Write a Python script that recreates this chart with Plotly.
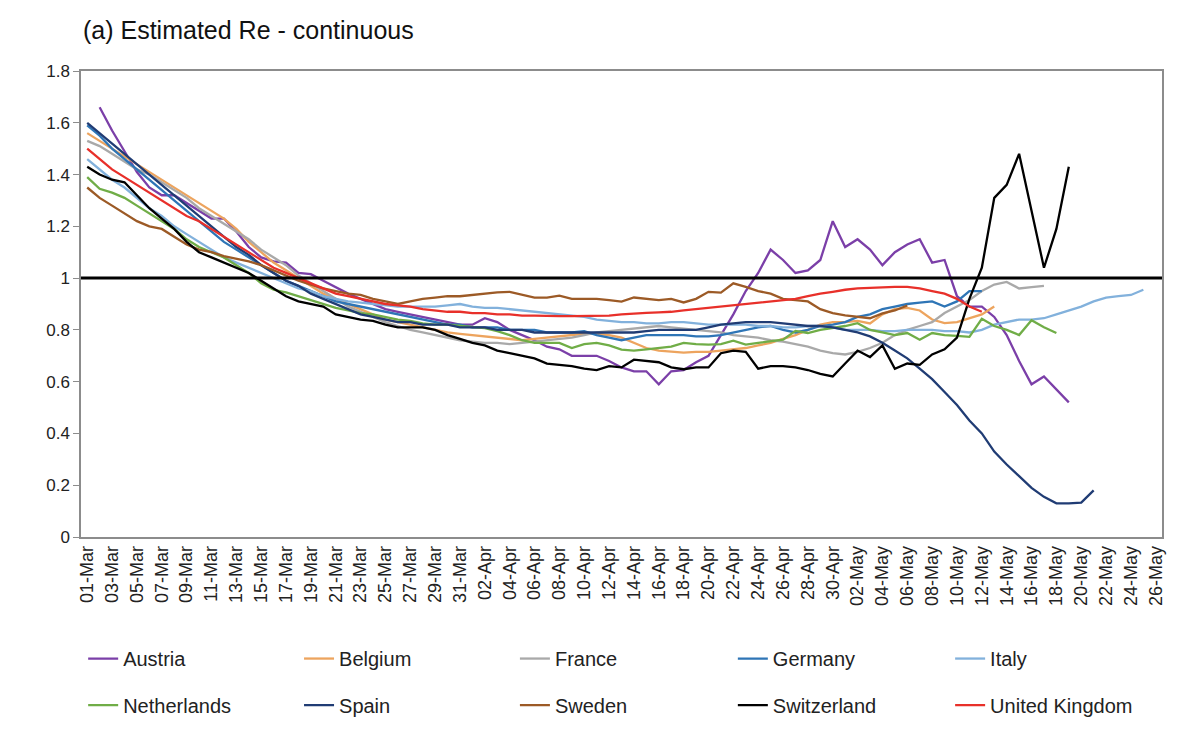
import plotly.graph_objects as go

# Category labels: 01-Mar .. 26-May
dates = ([f"{d:02d}-Mar" for d in range(1, 32)] +
         [f"{d:02d}-Apr" for d in range(1, 31)] +
         [f"{d:02d}-May" for d in range(1, 27)])
tick_labels = dates[::2]

threshold = 1.0

austria_start = 1
austria = [1.66, 1.57, 1.49, 1.41, 1.35, 1.32, 1.32, 1.29, 1.26, 1.23,
           1.23, 1.18, 1.12, 1.08, 1.065, 1.06, 1.02, 1.015, 0.99, 0.965,
           0.94, 0.92, 0.90, 0.88, 0.87, 0.86, 0.85, 0.84, 0.83, 0.82,
           0.82, 0.845, 0.83, 0.80, 0.78, 0.76, 0.735, 0.725, 0.70, 0.70,
           0.70, 0.68, 0.655, 0.64, 0.64, 0.59, 0.64, 0.645, 0.675, 0.70,
           0.78, 0.86, 0.95, 1.02, 1.11, 1.07, 1.02, 1.03, 1.07, 1.22,
           1.12, 1.15, 1.11, 1.05, 1.10, 1.13, 1.15, 1.06, 1.07, 0.93,
           0.89, 0.89, 0.85, 0.78, 0.68, 0.59, 0.62, 0.57, 0.52]

belgium = [1.56, 1.53, 1.50, 1.47, 1.44, 1.41, 1.38, 1.35, 1.32, 1.29,
           1.26, 1.23, 1.19, 1.14, 1.10, 1.06, 1.03, 1.00, 0.97, 0.94,
           0.92, 0.90, 0.88, 0.86, 0.84, 0.83, 0.82, 0.81, 0.80, 0.79,
           0.785, 0.78, 0.775, 0.77, 0.765, 0.76, 0.765, 0.77, 0.775, 0.78,
           0.785, 0.785, 0.78, 0.77, 0.75, 0.73, 0.72, 0.715, 0.712, 0.715,
           0.715, 0.72, 0.724, 0.73, 0.74, 0.75, 0.765, 0.78, 0.80, 0.82,
           0.83, 0.83, 0.835, 0.825, 0.86, 0.88, 0.885, 0.875, 0.84, 0.826,
           0.83, 0.845, 0.86, 0.89]

france = [1.53, 1.51, 1.48, 1.45, 1.42, 1.40, 1.37, 1.34, 1.31, 1.27,
          1.24, 1.21, 1.18, 1.15, 1.11, 1.08, 1.05, 1.01, 0.98, 0.95,
          0.92, 0.89, 0.87, 0.85, 0.83, 0.815, 0.80, 0.79, 0.78, 0.77,
          0.76, 0.755, 0.75, 0.75, 0.745, 0.75, 0.755, 0.76, 0.765, 0.77,
          0.78, 0.79, 0.795, 0.80, 0.805, 0.81, 0.815, 0.81, 0.805, 0.80,
          0.795, 0.79, 0.78, 0.775, 0.77, 0.76, 0.755, 0.745, 0.735, 0.72,
          0.71, 0.705, 0.715, 0.73, 0.75, 0.78, 0.80, 0.815, 0.83, 0.865,
          0.89, 0.915, 0.95, 0.975, 0.985, 0.96, 0.965, 0.97]

germany = [1.59, 1.55, 1.50, 1.46, 1.42, 1.38, 1.34, 1.30, 1.26, 1.22,
           1.18, 1.14, 1.11, 1.08, 1.05, 1.02, 0.99, 0.97, 0.95, 0.93,
           0.91, 0.90, 0.89, 0.88, 0.87, 0.86, 0.85, 0.84, 0.83, 0.82,
           0.82, 0.81, 0.81, 0.81, 0.80, 0.80, 0.80, 0.79, 0.79, 0.79,
           0.795, 0.78, 0.77, 0.76, 0.77, 0.78, 0.78, 0.78, 0.78, 0.775,
           0.775, 0.78, 0.79, 0.80, 0.81, 0.815, 0.80, 0.79, 0.80, 0.815,
           0.82, 0.83, 0.85, 0.86, 0.88, 0.89, 0.90, 0.905, 0.91, 0.89,
           0.91, 0.95, 0.95]

italy = [1.46, 1.42, 1.38, 1.35, 1.31, 1.27, 1.24, 1.20, 1.17, 1.14,
         1.11, 1.08, 1.06, 1.04, 1.02, 1.00, 0.98, 0.96, 0.95, 0.93,
         0.92, 0.91, 0.905, 0.90, 0.895, 0.89, 0.89, 0.89, 0.89, 0.895,
         0.90, 0.89, 0.885, 0.885, 0.88, 0.875, 0.87, 0.865, 0.86, 0.855,
         0.85, 0.84, 0.835, 0.83, 0.83, 0.825, 0.825, 0.83, 0.83, 0.825,
         0.82, 0.82, 0.82, 0.82, 0.815, 0.815, 0.81, 0.81, 0.815, 0.815,
         0.81, 0.80, 0.80, 0.80, 0.795, 0.795, 0.80, 0.80, 0.80, 0.795,
         0.795, 0.79, 0.80, 0.82, 0.83, 0.84, 0.84, 0.845, 0.86, 0.875,
         0.89, 0.91, 0.925, 0.93, 0.935, 0.955]

netherlands = [1.39, 1.345, 1.33, 1.31, 1.28, 1.25, 1.22, 1.19, 1.15, 1.12,
               1.10, 1.08, 1.05, 1.02, 0.98, 0.955, 0.945, 0.93, 0.915, 0.90,
               0.885, 0.875, 0.865, 0.86, 0.85, 0.84, 0.835, 0.825, 0.82, 0.82,
               0.815, 0.81, 0.807, 0.795, 0.78, 0.76, 0.75, 0.75, 0.75, 0.73,
               0.745, 0.75, 0.74, 0.724, 0.72, 0.725, 0.73, 0.735, 0.75, 0.745,
               0.743, 0.745, 0.758, 0.743, 0.75, 0.755, 0.762, 0.796, 0.788, 0.80,
               0.807, 0.815, 0.826, 0.80, 0.79, 0.78, 0.788, 0.762, 0.788, 0.78,
               0.777, 0.773, 0.843, 0.815, 0.80, 0.78, 0.837, 0.81, 0.788]

spain = [1.60, 1.56, 1.52, 1.48, 1.44, 1.40, 1.36, 1.32, 1.28, 1.24,
         1.20, 1.16, 1.12, 1.09, 1.05, 1.02, 0.99, 0.97, 0.94, 0.92,
         0.90, 0.88, 0.86, 0.85, 0.84, 0.83, 0.83, 0.82, 0.82, 0.82,
         0.81, 0.81, 0.81, 0.80, 0.80, 0.80, 0.79, 0.79, 0.79, 0.79,
         0.79, 0.79, 0.79, 0.79, 0.79, 0.795, 0.80, 0.80, 0.80, 0.80,
         0.81, 0.82, 0.825, 0.83, 0.83, 0.83, 0.825, 0.82, 0.815, 0.815,
         0.81, 0.80, 0.79, 0.775, 0.75, 0.72, 0.69, 0.65, 0.61, 0.56,
         0.51, 0.45, 0.40, 0.33, 0.28, 0.235, 0.19, 0.155, 0.13, 0.13,
         0.133, 0.18]

sweden = [1.35, 1.31, 1.28, 1.25, 1.22, 1.20, 1.19, 1.16, 1.13, 1.11,
          1.10, 1.085, 1.075, 1.065, 1.05, 1.03, 1.01, 0.99, 0.975, 0.96,
          0.95, 0.94, 0.935, 0.92, 0.91, 0.90, 0.91, 0.92, 0.925, 0.93,
          0.93, 0.935, 0.94, 0.945, 0.947, 0.935, 0.925, 0.925, 0.932, 0.92,
          0.92, 0.92, 0.915, 0.909, 0.925, 0.92, 0.915, 0.92, 0.906, 0.92,
          0.947, 0.944, 0.98, 0.966, 0.95, 0.94, 0.92, 0.915, 0.91, 0.88,
          0.865, 0.856, 0.85, 0.845, 0.864, 0.875, 0.894]

switzerland = [1.43, 1.40, 1.38, 1.37, 1.32, 1.27, 1.23, 1.19, 1.14, 1.10,
               1.08, 1.06, 1.04, 1.02, 0.99, 0.96, 0.93, 0.91, 0.90, 0.89,
               0.86, 0.85, 0.84, 0.835, 0.82, 0.81, 0.81, 0.81, 0.80, 0.78,
               0.765, 0.75, 0.74, 0.72, 0.71, 0.70, 0.69, 0.67, 0.665, 0.66,
               0.65, 0.645, 0.66, 0.655, 0.685, 0.68, 0.675, 0.655, 0.648, 0.655,
               0.655, 0.71, 0.72, 0.715, 0.65, 0.66, 0.66, 0.655, 0.645, 0.63,
               0.62, 0.67, 0.72, 0.695, 0.74, 0.65, 0.67, 0.665, 0.705, 0.725,
               0.77, 0.92, 1.04, 1.31, 1.36, 1.48, 1.26, 1.04, 1.19, 1.43]

uk = [1.50, 1.46, 1.42, 1.39, 1.36, 1.33, 1.30, 1.27, 1.24, 1.22,
      1.19, 1.16, 1.13, 1.10, 1.07, 1.04, 1.02, 1.00, 0.98, 0.96,
      0.94, 0.93, 0.92, 0.91, 0.90, 0.895, 0.89, 0.88, 0.875, 0.87,
      0.87, 0.865, 0.865, 0.86, 0.86, 0.855, 0.855, 0.853, 0.853, 0.853,
      0.853, 0.853, 0.855, 0.86, 0.864, 0.866, 0.868, 0.87, 0.875, 0.88,
      0.885, 0.89, 0.894, 0.90, 0.905, 0.91, 0.913, 0.92, 0.93, 0.94,
      0.947, 0.955, 0.96, 0.962, 0.965, 0.966, 0.966, 0.96, 0.95, 0.94,
      0.92, 0.89, 0.87]

series = [
    ("Austria", austria, austria_start, "#7B3FA8"),
    ("Belgium", belgium, 0, "#EDA45E"),
    ("France", france, 0, "#A9A9A9"),
    ("Germany", germany, 0, "#2E75B6"),
    ("Italy", italy, 0, "#82B1DC"),
    ("Netherlands", netherlands, 0, "#70AD47"),
    ("Spain", spain, 0, "#203C74"),
    ("Sweden", sweden, 0, "#9C5A26"),
    ("Switzerland", switzerland, 0, "#000000"),
    ("United Kingdom", uk, 0, "#E8302A"),
]

# legend grid: 5 columns x 2 rows
legend_cols = [0.002, 0.2017, 0.4014, 0.603, 0.804]
legend_rows = [-0.219, -0.319]

fig = go.Figure()
legend_layouts = {}
for k, (name, vals, start, color) in enumerate(series):
    leg_id = "legend" if k == 0 else f"legend{k + 1}"
    fig.add_trace(go.Scatter(
        x=dates[start:start + len(vals)], y=vals, name=name, mode="lines",
        line=dict(color=color, width=2.3), legend=leg_id, showlegend=True,
    ))
    legend_layouts[leg_id] = dict(
        x=legend_cols[k % 5], xanchor="left", y=legend_rows[k // 5], yanchor="top",
        orientation="h", itemwidth=30, bgcolor="rgba(0,0,0,0)",
        font=dict(size=20, color="#222222"),
    )

fig.add_shape(type="line", xref="paper", x0=0, x1=1, yref="y",
              y0=threshold, y1=threshold, line=dict(color="black", width=3))

font_family = "Liberation Sans, Arial, sans-serif"
fig.update_layout(
    width=1200, height=729, showlegend=True,
    margin=dict(l=73, r=46, t=63, b=192),
    paper_bgcolor="white", plot_bgcolor="white",
    font=dict(family=font_family, color="#222222"),
    title=dict(text="(a) Estimated Re - continuous", x=75 / 1200, xref="container",
               xanchor="left", y=1 - 22 / 729, yref="container", yanchor="middle",
               font=dict(size=25, color="#111111")),
    xaxis=dict(type="category", categoryorder="array", categoryarray=dates,
               range=[-0.5, len(dates) - 0.5], tickmode="array",
               tickvals=tick_labels, ticktext=tick_labels, tickangle=-90,
               tickfont=dict(size=18, color="#222222"), showgrid=False,
               showline=True, linecolor="#8c8c8c", linewidth=1.5, mirror=True,
               ticks="", automargin=False),
    yaxis=dict(range=[0, 1.8], dtick=0.2, tickformat="~g", showgrid=False,
               showline=True, linecolor="#8c8c8c", linewidth=1.5, mirror=True,
               ticks="outside", ticklen=6, tickcolor="#8c8c8c",
               tickfont=dict(size=17, color="#222222"), zeroline=False,
               automargin=False),
    **legend_layouts,
)

fig.write_html("out.html")
